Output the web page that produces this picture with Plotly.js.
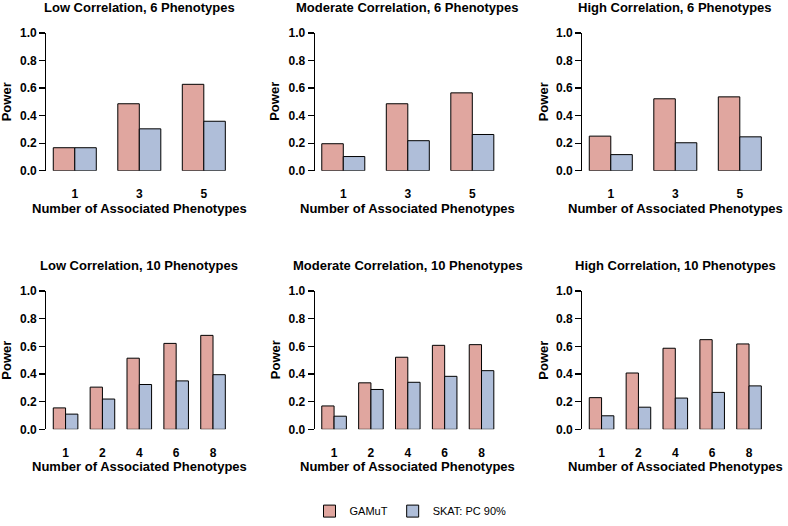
<!DOCTYPE html>
<html>
<head>
<meta charset="utf-8">
<script src="https://cdn.plot.ly/plotly-3.0.1.min.js"></script>
<style>html,body{margin:0;padding:0;background:#fff;}#chart{width:788px;height:526px;}</style>
</head>
<body>
<div id="chart"></div>
<script>
// ---- data ----
const panelTitles = [
  "Low Correlation, 6 Phenotypes", "Moderate Correlation, 6 Phenotypes", "High Correlation, 6 Phenotypes",
  "Low Correlation, 10 Phenotypes", "Moderate Correlation, 10 Phenotypes", "High Correlation, 10 Phenotypes"
];
const cats6 = ["1", "3", "5"];
const cats10 = ["1", "2", "4", "6", "8"];

const gamutLow6 = [0.167, 0.486, 0.627];
const skatLow6  = [0.167, 0.304, 0.359];
const gamutMod6 = [0.196, 0.486, 0.565];
const skatMod6  = [0.103, 0.218, 0.263];
const gamutHigh6 = [0.251, 0.522, 0.536];
const skatHigh6  = [0.117, 0.203, 0.246];

const gamutLow10 = [0.155, 0.305, 0.514, 0.621, 0.679];
const skatLow10  = [0.110, 0.219, 0.324, 0.350, 0.395];
const gamutMod10 = [0.169, 0.336, 0.521, 0.607, 0.612];
const skatMod10  = [0.095, 0.288, 0.340, 0.383, 0.424];
const gamutHigh10 = [0.229, 0.407, 0.586, 0.648, 0.617];
const skatHigh10  = [0.098, 0.160, 0.226, 0.267, 0.314];

const yTickVals = [0, 0.2, 0.4, 0.6, 0.8, 1.0];
const yTickText = ["0.0", "0.2", "0.4", "0.6", "0.8", "1.0"];
const seriesNames = ["GAMuT", "SKAT: PC 90%"];
const xTitle = "Number of Associated Phenotypes";
const yTitle = "Power";

// ---- layout helpers ----
const W = 788, H = 526;
const colors = ["#E0A69F", "#AFBED9"];
const colLeft = [46.4, 314.9, 582.4];
const plotW = 185.8;
const rowTop = [33.3, 294.3];   // pixel y of 1.0
const rowBot = [172.7, 434.3];  // pixel y of 0.0

const panels = [
  {cats: cats6, g: gamutLow6, s: skatLow6},
  {cats: cats6, g: gamutMod6, s: skatMod6},
  {cats: cats6, g: gamutHigh6, s: skatHigh6},
  {cats: cats10, g: gamutLow10, s: skatLow10},
  {cats: cats10, g: gamutMod10, s: skatMod10},
  {cats: cats10, g: gamutHigh10, s: skatHigh10}
];

const boldFont = {family: "Liberation Sans, Arial, sans-serif", size: 13, color: "#000", weight: "bold"};
const tickFont = {family: "Liberation Sans, Arial, sans-serif", size: 12, color: "#000", weight: "bold"};

const traces = [];
const layout = {
  width: W, height: H, autosize: false,
  margin: {l: 0, r: 0, t: 0, b: 0},
  paper_bgcolor: "#fff", plot_bgcolor: "#fff",
  barmode: "group", bargap: 1/3, bargroupgap: 0,
  showlegend: true,
  legend: {
    orientation: "h", x: 410.5/W, xanchor: "center", y: 1 - 517/H, yanchor: "middle",
    font: {family: "Liberation Sans, Arial, sans-serif", size: 11, color: "#000"},
    itemwidth: 30, traceorder: "normal"
  },
  annotations: []
};

panels.forEach((p, i) => {
  const row = Math.floor(i / 3), col = i % 3;
  const n = i + 1;
  const xa = "x" + (n === 1 ? "" : n), ya = "y" + (n === 1 ? "" : n);
  const xk = "xaxis" + (n === 1 ? "" : n), yk = "yaxis" + (n === 1 ? "" : n);
  [p.g, p.s].forEach((vals, k) => {
    traces.push({
      type: "bar", x: p.cats, y: vals, name: seriesNames[k],
      xaxis: xa, yaxis: ya,
      marker: {color: colors[k], line: {color: "#000", width: 1}},
      legendgroup: seriesNames[k], showlegend: i === 0,
      hoverinfo: "skip"
    });
  });
  const x0 = colLeft[col] / W, x1 = (colLeft[col] + plotW) / W;
  const y0 = 1 - rowBot[row] / H, y1 = 1 - rowTop[row] / H;
  const pad = p.cats.length === 3 ? 0.44 : 0.52;
  layout[xk] = {
    domain: [x0, x1], anchor: ya, type: "category",
    range: [-pad, p.cats.length - 1 + pad],
    showline: false, showgrid: false, zeroline: false,
    ticks: "outside", ticklen: 12, tickcolor: "rgba(0,0,0,0)",
    tickfont: tickFont, fixedrange: true
  };
  layout[yk] = {
    domain: [y0, y1], anchor: xa, range: [0, 1],
    tickvals: yTickVals, ticktext: yTickText,
    showline: true, linecolor: "#000", linewidth: 1.3,
    ticks: "outside", ticklen: 6, tickwidth: 1.3, tickcolor: "#000",
    showgrid: false, zeroline: false, tickfont: tickFont, fixedrange: true
  };
  const cx = (colLeft[col] + plotW / 2) / W;
  layout.annotations.push({
    text: panelTitles[i], xref: "paper", yref: "paper", x: cx, y: 1 - (8 + row * 261) / H,
    xanchor: "center", yanchor: "middle", showarrow: false, font: boldFont
  });
  layout.annotations.push({
    text: xTitle, xref: "paper", yref: "paper", x: cx, y: 1 - (210.5 + row * 261) / H,
    xanchor: "center", yanchor: "middle", showarrow: false, font: boldFont
  });
  layout.annotations.push({
    text: yTitle, xref: "paper", yref: "paper", x: (6.5 + col * 268.5) / W,
    y: 1 - ((rowTop[row] + rowBot[row]) / 2) / H, textangle: -90,
    xanchor: "center", yanchor: "middle", showarrow: false, font: boldFont
  });
});

Plotly.newPlot("chart", traces, layout, {staticPlot: true, displayModeBar: false});
</script>
</body>
</html>
